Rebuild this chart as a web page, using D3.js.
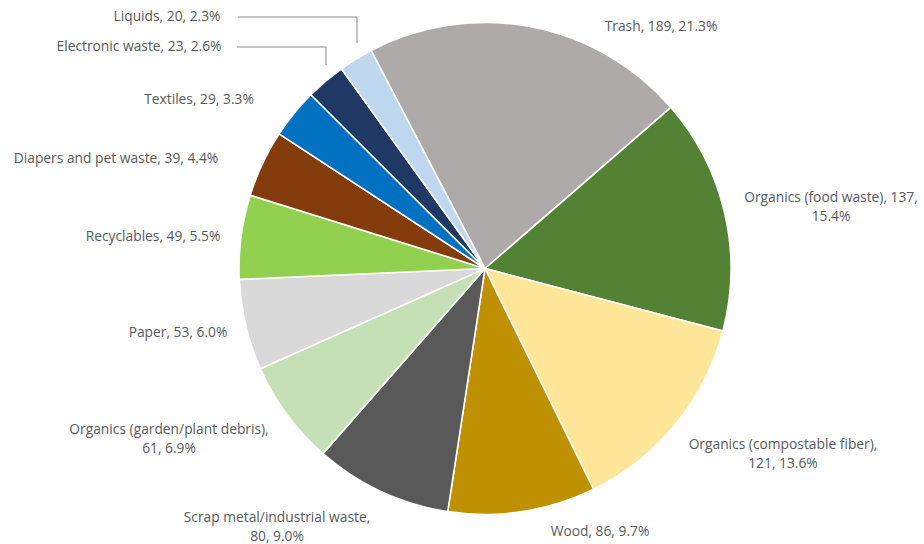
<!DOCTYPE html>
<html>
<head>
<meta charset="utf-8">
<script src="https://cdn.jsdelivr.net/npm/d3@7/dist/d3.min.js"></script>
<style>
  html, body { margin: 0; padding: 0; background: #fff; }
  svg { display: block; }
  text { font-family: "Open Sans", "Noto Sans", sans-serif; font-size: 13.8px; fill: #595959; }
</style>
</head>
<body>
<svg id="chart" width="924" height="544"></svg>
<script>
// Waste composition, in tons, clockwise from "Trash"
const categories = [
  "Trash",
  "Organics (food waste)",
  "Organics (compostable fiber)",
  "Wood",
  "Scrap metal/industrial waste",
  "Organics (garden/plant debris)",
  "Paper",
  "Recyclables",
  "Diapers and pet waste",
  "Textiles",
  "Electronic waste",
  "Liquids"
];
const values = [189, 137, 121, 86, 80, 61, 53, 49, 39, 29, 23, 20];
const percents = ["21.3%", "15.4%", "13.6%", "9.7%", "9.0%", "6.9%", "6.0%", "5.5%", "4.4%", "3.3%", "2.6%", "2.3%"];
const colors = ["#AEAAAA", "#548235", "#FFE699", "#BF9000", "#595959", "#C5E0B4",
                "#D9D9D9", "#92D050", "#843C0C", "#0070C0", "#1F3864", "#BDD7EE"];

// Label text lines (how each data label wraps)
const labelLines = [
  ["Trash, 189, 21.3%"],
  ["Organics (food waste), 137,", "15.4%"],
  ["Organics (compostable fiber),", "121, 13.6%"],
  ["Wood, 86, 9.7%"],
  ["Scrap metal/industrial waste,", "80, 9.0%"],
  ["Organics (garden/plant debris),", "61, 6.9%"],
  ["Paper, 53, 6.0%"],
  ["Recyclables, 49, 5.5%"],
  ["Diapers and pet waste, 39, 4.4%"],
  ["Textiles, 29, 3.3%"],
  ["Electronic waste, 23, 2.6%"],
  ["Liquids, 20, 2.3%"]
];

// Layout
const cx = 485, cy = 268.5, radius = 246;
const startDeg = -27.6;
const lineGap = 19;
// label placement: [center x, first baseline]
const labelPos = [
  [661, 31], [831, 202], [783, 449], [600, 536], [277, 522], [169, 434],
  [178, 337], [153, 241], [116, 163], [199, 104], [139, 51], [167, 21]
];
// leader lines for the two slim slices at the top
const leaders = [
  { y: 47, xFrom: 237, xTo: 326, yEnd: 65 },
  { y: 17, xFrom: 238, xTo: 357, yEnd: 43 }
];

const svg = d3.select("#chart");
const data = categories.map((c, i) => ({ name: c, value: values[i], i }));

const pie = d3.pie()
  .value(d => d.value)
  .sort(null)
  .startAngle(startDeg * Math.PI / 180)
  .endAngle(startDeg * Math.PI / 180 + 2 * Math.PI);

const arc = d3.arc().innerRadius(0).outerRadius(radius);
const arcs = pie(data);

const g = svg.append("g").attr("transform", `translate(${cx},${cy})`);
g.selectAll("path")
  .data(arcs)
  .join("path")
  .attr("d", arc)
  .attr("fill", d => colors[d.data.i])
  .attr("stroke", "#fff")
  .attr("stroke-width", 1.6)
  .attr("stroke-linejoin", "round");

// leader lines
leaders.forEach(l => {
  svg.append("path")
    .attr("d", `M${l.xFrom},${l.y}H${l.xTo}V${l.yEnd}`)
    .attr("fill", "none")
    .attr("stroke", "#8c8c8c")
    .attr("stroke-width", 1);
});

// data labels
const labels = svg.append("g");
labelLines.forEach((lines, i) => {
  const t = labels.append("text")
    .attr("text-anchor", "middle")
    .attr("x", labelPos[i][0])
    .attr("y", labelPos[i][1]);
  lines.forEach((ln, j) => {
    t.append("tspan")
      .attr("x", labelPos[i][0])
      .attr("dy", j === 0 ? 0 : lineGap)
      .text(ln);
  });
});
</script>
</body>
</html>
